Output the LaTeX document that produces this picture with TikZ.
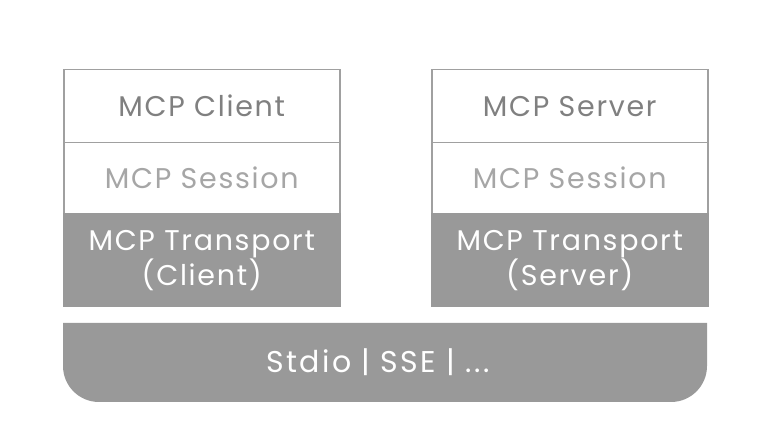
\documentclass[tikz,border=0pt]{standalone}
\usepackage{fontspec}
\setmainfont{Poppins}[LetterSpace=6]
\definecolor{boxline}{HTML}{A0A0A0}
\definecolor{darkfill}{HTML}{999999}
\definecolor{titletext}{HTML}{808080}
\definecolor{sesstext}{HTML}{A6A6A6}
\begin{document}
\begin{tikzpicture}[x=1pt,y=-1pt,
  cell/.style={draw=boxline,line width=1.5pt,fill=white,minimum width=276pt,inner sep=0pt,anchor=north west,align=center,font=\fontsize{28.5}{33}\selectfont},
  title/.style={cell,minimum height=73pt,text=titletext},
  sess/.style={cell,minimum height=71pt,text=sesstext},
  trans/.style={cell,draw=darkfill,fill=darkfill,minimum height=93pt,text=white,font=\fontsize{28.5}{35}\selectfont}]
\useasboundingbox[fill=white] (0,0) rectangle (780,446);
\node[title] (ct) at (63,69) {MCP Client};
\node[sess] (cs) at (63,142) {MCP Session};
\node[trans] (cx) at (63,213) {MCP Transport\\(Client)};
\node[title] (st) at (431,69) {MCP Server};
\node[sess] (ss) at (431,142) {MCP Session};
\node[trans] (sx) at (431,213) {MCP Transport\\(Server)};
\fill[darkfill] (63,323) -- (707,323) -- (707,366) arc[start angle=0,end angle=90,radius=36] -- (99,402) arc[start angle=90,end angle=180,radius=36] -- cycle;
\node[text=white,font=\fontsize{30}{35}\selectfont\addfontfeatures{LetterSpace=8}] (bar) at (378,362) {Stdio | SSE | ...};
\end{tikzpicture}
\end{document}
